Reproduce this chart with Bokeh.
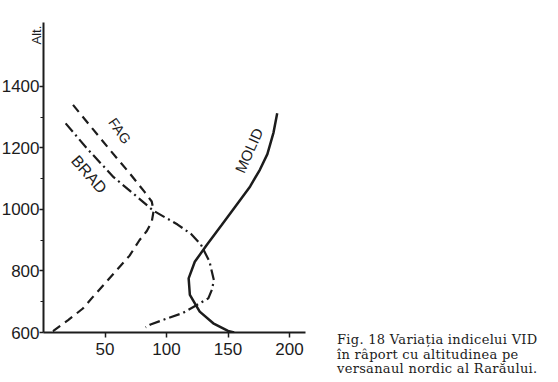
from bokeh.plotting import figure
from bokeh.layouts import row
from bokeh.models import Range1d, FixedTicker, Label, Div
from bokeh.embed import file_html
from bokeh.resources import INLINE

# ---- data (VID index vs altitude, m) ----
fag_x = [24, 40, 55, 70, 82, 88, 89.5, 88, 84, 78, 70, 60, 50, 40, 32, 20, 8, 5]
fag_y = [1340, 1262, 1189, 1118, 1058, 1026, 995, 960, 930, 900, 850, 805, 760, 715, 678, 640, 605, 600]

brad_x = [18, 35, 57, 75, 89, 109, 120, 128, 135, 138.5, 137, 134, 124, 113, 100, 87, 83]
brad_y = [1280, 1200, 1105, 1045, 997, 951, 920, 886, 830, 770, 740, 711, 688, 663, 645, 626, 617]

molid_x = [190, 187, 182, 176, 168, 156, 145, 133, 123, 118, 119, 127, 138, 150, 155]
molid_y = [1313, 1250, 1180, 1130, 1075, 1010, 950, 886, 830, 776, 722, 668, 630, 605, 600]

x_ticks = [50, 100, 150, 200]
y_ticks = [600, 800, 1000, 1200, 1400]
y_minor = [700, 900, 1100, 1300]

series_names = ["FAG", "BRAD", "MOLID"]
y_title = "Alt."
caption_lines = [
    "Fig. 18 Variația indicelui VID",
    "în râport cu altitudinea pe",
    "versanaul nordic al Rarăului.",
]

INK = "#1c1c1c"

p = figure(
    width=330, height=382,
    x_range=Range1d(0, 213), y_range=Range1d(600, 1608),
    output_backend="svg", toolbar_location=None,
    min_border_left=43, min_border_right=25,
    min_border_top=22, min_border_bottom=50,
)
p.background_fill_color = "white"
p.border_fill_color = "white"
p.outline_line_color = None
p.grid.visible = False

for ax in (p.xaxis[0], p.yaxis[0]):
    ax.axis_line_width = 2
    ax.axis_line_color = INK
    ax.major_tick_line_color = INK
    ax.major_tick_line_width = 1.5
    ax.major_tick_in = 0
    ax.minor_tick_in = 0
    ax.major_label_text_font = "Liberation Sans"
    ax.major_label_text_font_size = "17px"
    ax.major_label_text_color = INK

p.xaxis.ticker = FixedTicker(ticks=x_ticks)
p.xaxis.major_tick_out = 5
p.xaxis.major_label_standoff = 5
p.xaxis.minor_tick_line_color = None

p.yaxis.ticker = FixedTicker(ticks=y_ticks, minor_ticks=y_minor)
p.yaxis.major_tick_out = 4
p.yaxis.minor_tick_out = 3
p.yaxis.minor_tick_line_color = INK
p.yaxis.minor_tick_line_width = 1.2
p.yaxis.major_label_standoff = 0

# "Alt." written near the top end of the vertical axis, right beside it
p.yaxis.axis_label = y_title + "\u00a0" * 7
p.yaxis.axis_label_align = "end"
p.yaxis.axis_label_standoff = -45
p.yaxis.axis_label_text_font = "Liberation Sans"
p.yaxis.axis_label_text_font_size = "13px"
p.yaxis.axis_label_text_font_style = "normal"
p.yaxis.axis_label_text_color = INK

p.line(fag_x, fag_y, line_color=INK, line_width=2.2, line_dash="9 6")
p.line(brad_x, brad_y, line_color=INK, line_width=2.2, line_dash="11 4 2 4")
p.line(molid_x, molid_y, line_color=INK, line_width=2.5)

lab_font = "Liberation Sans"
p.add_layout(Label(x=62, y=1256, text=series_names[0], angle=-0.96,
                   text_align="center", text_baseline="middle",
                   text_font=lab_font, text_font_size="14px", text_color=INK))
p.add_layout(Label(x=37, y=1114, text=series_names[1], angle=-0.85,
                   text_align="center", text_baseline="middle",
                   text_font=lab_font, text_font_size="16px", text_color=INK))
p.add_layout(Label(x=167, y=1192, text=series_names[2], angle=1.15,
                   text_align="center", text_baseline="middle",
                   text_font=lab_font, text_font_size="15px", text_color=INK))

# caption, to the right of the chart
cap_html = (
    '<div style="font-family:\'DejaVu Serif\';font-size:13px;line-height:14.5px;'
    'letter-spacing:0.3px;padding:333px 0 0 7px;white-space:nowrap;color:%s">' % INK
    + "<br>".join(caption_lines) + "</div>"
)
cap = Div(text=cap_html, width=228, height=382, margin=0)

layout = row(p, cap, spacing=0)
open("out.html", "w").write(file_html(layout, INLINE))
